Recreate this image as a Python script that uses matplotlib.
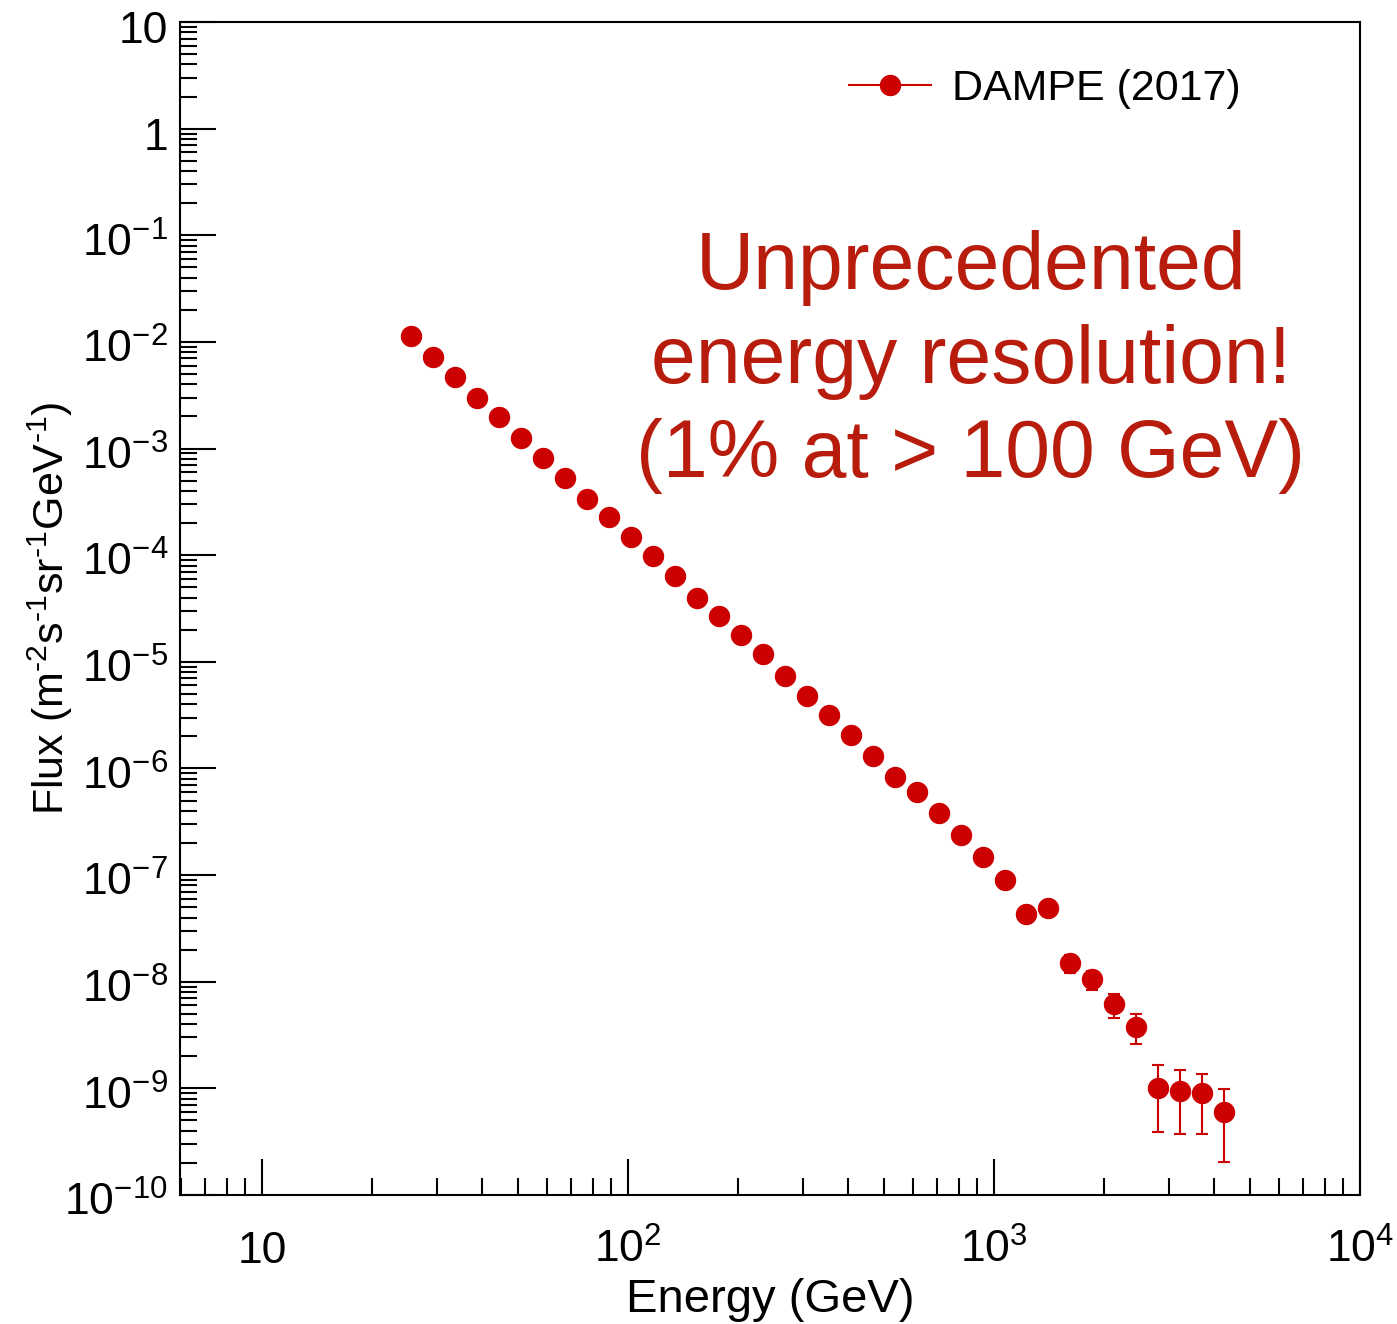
import numpy as np
import matplotlib
matplotlib.use("Agg")
import matplotlib.pyplot as plt
from matplotlib.lines import Line2D
from matplotlib.ticker import FixedLocator, FixedFormatter, LogLocator, NullFormatter
from matplotlib.transforms import ScaledTranslation

plt.rcParams['font.family'] = ['Liberation Sans', 'DejaVu Sans']
plt.rcParams['mathtext.fontset'] = 'custom'
plt.rcParams['mathtext.rm'] = 'Liberation Sans'
plt.rcParams['mathtext.it'] = 'Liberation Sans:italic'
plt.rcParams['mathtext.bf'] = 'Liberation Sans:bold'

# datos (GeV, m^-2 s^-1 sr^-1 GeV^-1)
energy = [25.5, 29.3, 33.6, 38.6, 44.4, 51.0, 58.6, 67.3, 77.3, 88.7,
          101.9, 117, 134, 154, 177, 204, 234, 269, 308, 354,
          407, 467, 537, 616, 708, 812, 933, 1072, 1222, 1405,
          1614, 1853, 2128, 2444, 2807, 3223, 3700, 4248]
flux = [1.13e-2, 7.2e-3, 4.7e-3, 2.97e-3, 1.97e-3, 1.25e-3, 8.1e-4, 5.3e-4, 3.4e-4, 2.27e-4,
        1.48e-4, 9.8e-5, 6.4e-5, 4.0e-5, 2.7e-5, 1.78e-5, 1.18e-5, 7.3e-6, 4.75e-6, 3.15e-6,
        2.05e-6, 1.30e-6, 8.3e-7, 5.98e-7, 3.8e-7, 2.36e-7, 1.47e-7, 8.9e-8, 4.3e-8, 4.9e-8,
        1.49e-8, 1.05e-8, 6.14e-9, 3.73e-9, 1.0e-9, 9.4e-10, 8.97e-10, 5.96e-10]
err_low = [0] * 30 + [2.9e-9, 2.2e-9, 1.6e-9, 1.14e-9, 6.1e-10, 5.7e-10, 5.2e-10, 3.94e-10]
err_high = [0] * 30 + [2.9e-9, 2.2e-9, 1.46e-9, 1.21e-9, 6.4e-10, 5.4e-10, 4.8e-10, 4.0e-10]

x_ticks = [10, 100, 1000, 10000]
x_labels = ['10', '$10^{2}$', '$10^{3}$', '$10^{4}$']
y_ticks = [10.0 ** k for k in range(-10, 2)]
y_labels = ['$10^{%d}$' % k for k in range(-10, 0)] + ['1', '10']

red = '#cc0000'

fig = plt.figure(figsize=(13.97, 13.24), dpi=100)
ax = fig.add_axes([180 / 1397, 1 - 1195 / 1324, 1180 / 1397, 1173 / 1324])

ax.errorbar(energy, flux, yerr=[err_low, err_high], fmt='o', color=red,
            markersize=14.4, elinewidth=1.5, capsize=4.5, capthick=1.5)

ax.set_xscale('log')
ax.set_yscale('log')
ax.set_xlim(5.97, 1e4)
ax.set_ylim(1e-10, 10)

ax.xaxis.set_major_locator(FixedLocator(x_ticks))
ax.xaxis.set_major_formatter(FixedFormatter(x_labels))
ax.yaxis.set_major_locator(FixedLocator(y_ticks))
ax.yaxis.set_major_formatter(FixedFormatter(y_labels))
ax.xaxis.set_minor_locator(LogLocator(base=10, subs=np.arange(2, 10), numticks=20))
ax.yaxis.set_minor_locator(LogLocator(base=10, subs=np.arange(2, 10), numticks=20))
ax.xaxis.set_minor_formatter(NullFormatter())
ax.yaxis.set_minor_formatter(NullFormatter())

ax.tick_params(which='major', direction='in', length=26, width=1.5, labelsize=32,
               top=False, right=False)
ax.tick_params(which='minor', direction='in', length=12.5, width=1.5,
               top=False, right=False)
ax.tick_params(axis='x', which='major', pad=49)
ax.tick_params(axis='y', which='major', pad=8.6)
for s in ax.spines.values():
    s.set_linewidth(1.5)

ax.set_xlabel('Energy (GeV)', fontsize=34, va='top')
ax.xaxis.set_label_coords(0.5, -(1278 - 1195) / 1173)
ax.set_ylabel(r'Flux (m$^{\text{-2}}$s$^{\text{-1}}$sr$^{\text{-1}}$GeV$^{\text{-1}}$)', fontsize=31)
ax.yaxis.set_label_coords(-(180 - 75) / 1180, 0.5)

handle = Line2D([], [], color=red, marker='o', markersize=14.4, lw=1.5)
ax.legend([handle], ['DAMPE (2017)'], loc='center left', fontsize=31,
          bbox_to_anchor=(849 / 1397, 1 - 89 / 1324), bbox_transform=fig.transFigure,
          frameon=False, handlelength=1.9, handletextpad=0.5,
          borderpad=0, borderaxespad=0)

fig.text(971 / 1397, 1 - 362 / 1324,
         'Unprecedented\nenergy resolution!\n(1% at > 100 GeV)',
         ha='center', va='center', multialignment='center',
         fontsize=58, linespacing=1.3, color='#b71c0c')

# alinear etiquetas por la linea base
fig.canvas.draw()
for lab in ax.get_xticklabels():
    lab.set_verticalalignment('baseline')
shift = ScaledTranslation(0, -0.21, fig.dpi_scale_trans)
for lab in ax.get_yticklabels():
    lab.set_verticalalignment('baseline')
    lab.set_transform(lab.get_transform() + shift)

fig.savefig('out.png', dpi=100)
